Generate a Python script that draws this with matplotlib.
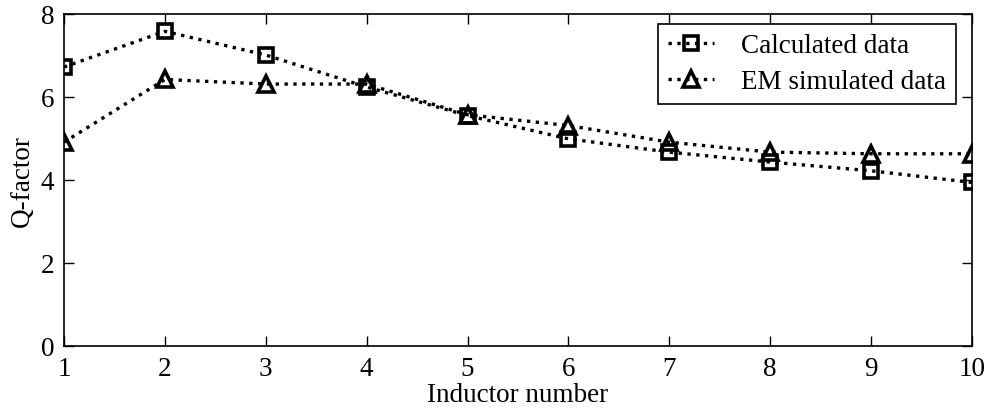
import matplotlib
matplotlib.use("Agg")
import matplotlib.pyplot as plt

plt.rcParams['font.family'] = ['Liberation Serif', 'DejaVu Serif']

# Data
inductor = [1, 2, 3, 4, 5, 6, 7, 8, 9, 10]
calculated = [6.72, 7.58, 7.01, 6.24, 5.55, 4.99, 4.67, 4.43, 4.22, 3.94]
em_simulated = [4.91, 6.42, 6.31, 6.31, 5.57, 5.31, 4.91, 4.67, 4.63, 4.63]

fig = plt.figure(figsize=(9.89, 4.14), dpi=100)
ax = fig.add_axes([0.0647, 0.162, 0.918, 0.802])

ax.plot(inductor, calculated, linestyle=':', color='black', linewidth=2.4,
        marker='s', markersize=10, markerfacecolor='none', markeredgewidth=2.6,
        label='Calculated data')
ax.plot(inductor, em_simulated, linestyle=':', color='black', linewidth=2.4,
        marker='^', markersize=12, markerfacecolor='none', markeredgewidth=2.6,
        label='EM simulated data')

ax.set_xlim(1, 10)
ax.set_ylim(0, 8)
ax.set_xticks(inductor)
ax.set_yticks([0, 2, 4, 6, 8])
ax.tick_params(direction='in', top=True, right=True, labelsize=19.5, length=7,
               width=1, pad=7)
for s in ax.spines.values():
    s.set_linewidth(1.2)

ax.set_xlabel('Inductor number', fontsize=19.5, labelpad=1)
ax.set_ylabel('Q-factor', fontsize=19.5, labelpad=4)

leg = ax.legend(loc='upper right', bbox_to_anchor=(0.982, 0.970),
                fontsize=19.5, frameon=True, fancybox=False,
                edgecolor='black', framealpha=1, borderaxespad=0,
                handlelength=1.7, borderpad=0.35, labelspacing=0.4,
                handletextpad=1.0)
leg.get_frame().set_linewidth(1.2)

fig.savefig('out.png', dpi=100)
